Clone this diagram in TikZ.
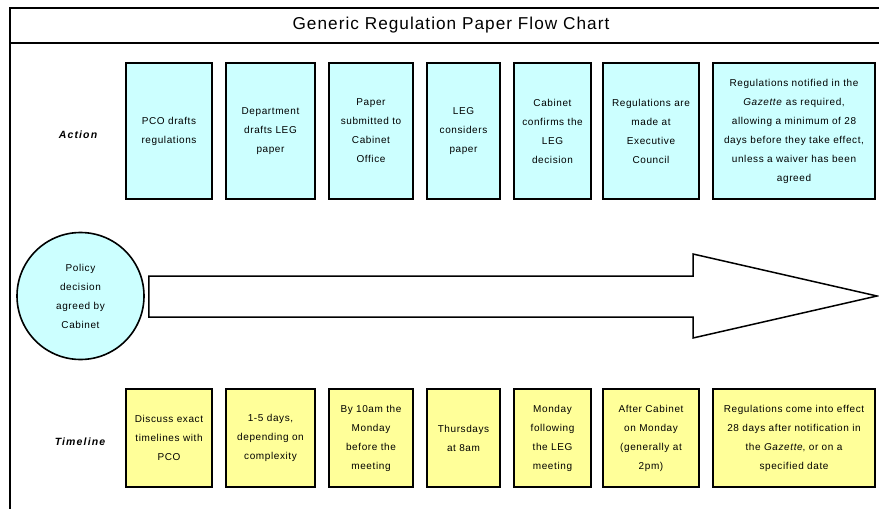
\documentclass[tikz,border=0pt]{standalone}
\usepackage{fontspec}
\setmainfont[LetterSpace=6]{Liberation Sans}
\begin{document}
\begin{tikzpicture}[x=1pt,y=-1pt,
  frameline/.style={line width=2pt},
  boxtext/.style={align=center,inner sep=0pt,font=\fontsize{10}{19}\selectfont},
  actionbox/.style={boxtext,draw,line width=1.8pt,fill=actionfill,minimum height=136pt},
  timebox/.style={boxtext,draw,line width=1.8pt,fill=timefill,minimum height=98pt},
  rowlabel/.style={font=\fontsize{10.5}{12}\selectfont\bfseries\itshape\addfontfeature{LetterSpace=11},inner sep=0pt}]
\definecolor{actionfill}{HTML}{CCFFFF}
\definecolor{timefill}{HTML}{FFFF99}
\useasboundingbox (0,0) rectangle (879,509);
\fill[white] (0,0) rectangle (879,509);

% outer frame and title row
\draw[frameline] (10,509) -- (10,7.5) -- (879,7.5);
\draw[frameline] (10,43) -- (879,43);
\node[font=\fontsize{17.2}{20}\selectfont,inner sep=0pt] (title) at (451,25.5) {Generic Regulation Paper Flow Chart};

% row labels
\node[rowlabel] (lblaction) at (78,135) {Action};
\node[rowlabel] (lbltime) at (80,442) {Timeline};

% action steps
\node[actionbox,minimum width=86pt] (a1) at (169,131) {PCO drafts\\regulations};
\node[actionbox,minimum width=89pt] (a2) at (270.5,131) {Department\\drafts LEG\\paper};
\node[actionbox,minimum width=84pt] (a3) at (371,131) {Paper\\submitted to\\Cabinet\\Office};
\node[actionbox,minimum width=73pt] (a4) at (463.5,131) {LEG\\considers\\paper};
\node[actionbox,minimum width=77pt] (a5) at (552.5,131) {Cabinet\\confirms the\\LEG\\decision};
\node[actionbox,minimum width=96pt] (a6) at (651,131) {Regulations are\\made at\\Executive\\Council};
\node[actionbox,minimum width=162pt] (a7) at (794,131) {Regulations notified in the\\\textit{Gazette} as required,\\allowing a minimum of 28\\days before they take effect,\\unless a waiver has been\\agreed};

% starting point
\node[boxtext,draw,line width=1.6pt,fill=actionfill,circle,minimum size=127pt] (policy) at (80.5,296) {Policy\\decision\\agreed by\\Cabinet};

% block arrow for the flow of time
\coordinate (tip) at (877,296);
\draw[line width=1.5pt,fill=white,line join=miter]
  ([xshift=4pt]policy.east |- 0,276) -- (693,276) -- (693,254) -- (tip)
  -- (693,338) -- (693,317) -- ([xshift=4pt]policy.east |- 0,317) -- cycle;

% timeline
\node[timebox,minimum width=86pt] (t1) at (169,438) {Discuss exact\\timelines with\\PCO};
\node[timebox,minimum width=89pt] (t2) at (270.5,438) {1-5 days,\\depending on\\complexity};
\node[timebox,minimum width=84pt] (t3) at (371,438) {By 10am the\\Monday\\before the\\meeting};
\node[timebox,minimum width=73pt] (t4) at (463.5,438) {Thursdays\\at 8am};
\node[timebox,minimum width=77pt] (t5) at (552.5,438) {Monday\\following\\the LEG\\meeting};
\node[timebox,minimum width=96pt] (t6) at (651,438) {After Cabinet\\on Monday\\(generally at\\2pm)};
\node[timebox,minimum width=162pt] (t7) at (794,438) {Regulations come into effect\\28 days after notification in\\the \textit{Gazette}, or on a\\specified date};
\end{tikzpicture}
\end{document}
